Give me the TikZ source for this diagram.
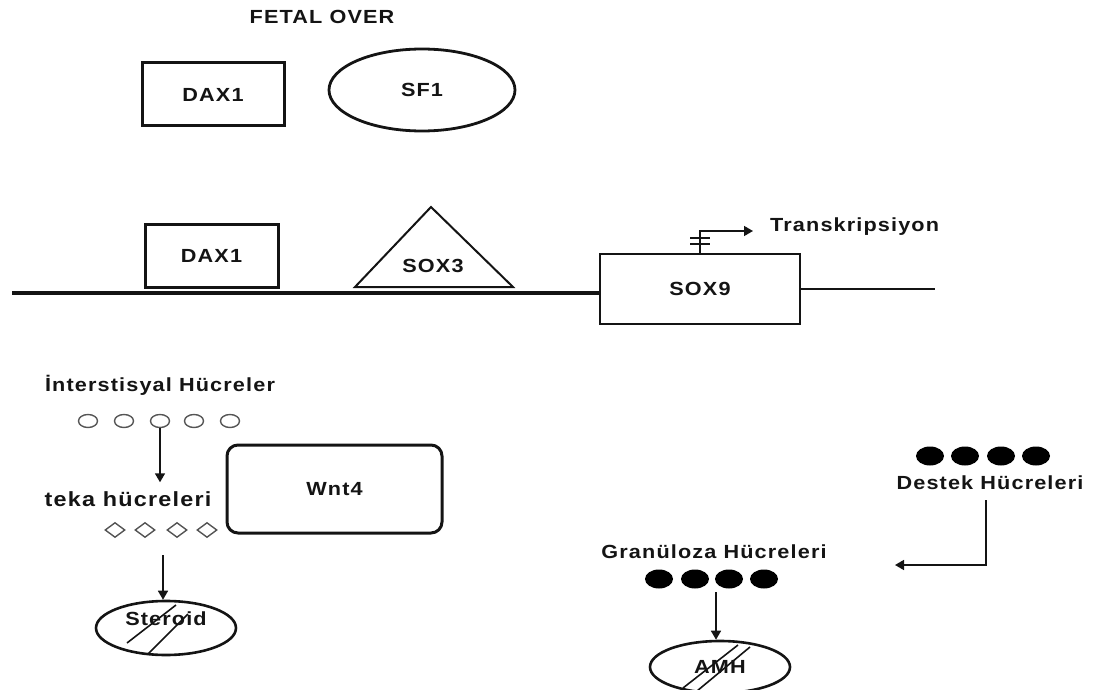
\documentclass[tikz,border=0pt]{standalone}
\usepackage{fontspec}
\setmainfont{Liberation Sans}[LetterSpace=6,FakeStretch=1.14]
\usetikzlibrary{shapes.geometric,arrows.meta}
\definecolor{txt}{HTML}{141414}
\definecolor{cellgray}{HTML}{555555}
\begin{document}
\begin{tikzpicture}[x=1pt,y=-1pt,
  every node/.style={inner sep=0pt, text=txt, font=\fontsize{19}{21}\selectfont\bfseries},
  thickbox/.style={rectangle, draw=txt, line width=3pt},
  thinbox/.style={rectangle, draw=txt, line width=2pt},
  oval/.style={ellipse, draw=txt, line width=2.8pt},
  opencell/.style={ellipse, draw=cellgray, line width=1.4pt, minimum width=19, minimum height=13},
  diacell/.style={diamond, draw=cellgray, line width=1.4pt, minimum width=20, minimum height=15},
  dotcell/.style={ellipse, fill=black, minimum width=28, minimum height=19},
  arr/.style={draw=txt, line width=1.6pt, -{Triangle[length=9pt,width=10pt]}},
  slash/.style={draw=txt, line width=1.6pt}]
\useasboundingbox (0,0) rectangle (1104,690);

% top
\node (title) at (322,17) {FETAL OVER};
\node[thickbox, minimum width=142, minimum height=63] (daxa) at (213,94.5) {DAX1\hspace{14pt}};
\node[oval, minimum width=186, minimum height=82] (sf1) at (422,90) {SF1\hspace{8pt}};

% DNA line
\node[thickbox, minimum width=133, minimum height=62] (daxb) at (211.5,256) {DAX1};
\coordinate (tl) at (355,287);
\coordinate (tr) at (513,287);
\coordinate (ta) at (431,207);
\draw[draw=txt, line width=2pt, line join=miter] (tl) -- (ta) -- (tr) -- cycle;
\node (sox3) at (433,266) {SOX3};
\node[thinbox, minimum width=200, minimum height=70] (sox9) at (700,289) {SOX9};
\coordinate (lstart) at (12,293);
\draw[draw=txt, line width=4.5pt] (lstart) -- (lstart -| sox9.west);
\coordinate (lend) at (935,289);
\draw[draw=txt, line width=2pt] (sox9.east) -- (lend);
\node[anchor=west, font=\fontsize{19}{21}\selectfont\bfseries] (trans) at (770,227) {Transkripsiyon};
\coordinate (ttip) at (753,231);
\draw[arr] (sox9.north) |- (ttip);
\draw[draw=txt, line width=2pt] ([xshift=-10pt,yshift=15pt]sox9.north) -- ++(20,0);
\draw[draw=txt, line width=2pt] ([xshift=-10pt,yshift=9pt]sox9.north) -- ++(20,0);

% interstitial / teka
\node (intlab) at (160,385) {İnterstisyal Hücreler};
\node[opencell] (i1) at (88,421) {};
\node[opencell] (i2) at (124,421) {};
\node[opencell] (i3) at (160,421) {};
\node[opencell] (i4) at (194,421) {};
\node[opencell] (i5) at (230,421) {};
\node[font=\fontsize{20.5}{22}\selectfont\bfseries] (teka) at (128,499) {teka hücreleri};
\draw[arr, shorten >=9pt] (i3.south) -- (i3.south |- teka.north);
\node[diacell] (d1) at (115,530) {};
\node[diacell] (d2) at (145,530) {};
\node[diacell] (d3) at (177,530) {};
\node[diacell] (d4) at (207,530) {};
\node[thickbox, rounded corners=11pt, minimum width=215, minimum height=88] (wnt) at (334.5,489) {Wnt4\hspace{28pt}};
\node[oval, line width=2.6pt, minimum width=140, minimum height=54, label={[yshift=9pt]center:Steroid}] (ster) at (166,628) {};
\coordinate (sstart) at (163,555);
\draw[arr] (sstart) -- (sstart |- ster.north);
\draw[slash] (127,643) -- (176,605);
\draw[slash] (148,654) -- (188,614);

% destek / granuloza
\node[dotcell] (s1) at (930,456) {};
\node[dotcell] (s2) at (965,456) {};
\node[dotcell] (s3) at (1001,456) {};
\node[dotcell] (s4) at (1036,456) {};
\node (destek) at (990,483) {Destek Hücreleri};
\coordinate (dstart) at (986,500);
\coordinate (dtip) at (895,565);
\draw[arr] (dstart) |- (dtip);

\node (gran) at (714,552) {Granüloza Hücreleri};
\node[dotcell] (g1) at (659,579) {};
\node[dotcell] (g2) at (695,579) {};
\node[dotcell] (g3) at (729,579) {};
\node[dotcell] (g4) at (764,579) {};
\node[oval, line width=2.6pt, minimum width=140, minimum height=52] (amh) at (720,667) {AMH};
\coordinate (gstart) at (716,592);
\draw[arr] (gstart) -- (gstart |- amh.north);
\draw[slash] (683,688) -- (738,645);
\draw[slash] (697,691) -- (750,647);
\end{tikzpicture}
\end{document}
